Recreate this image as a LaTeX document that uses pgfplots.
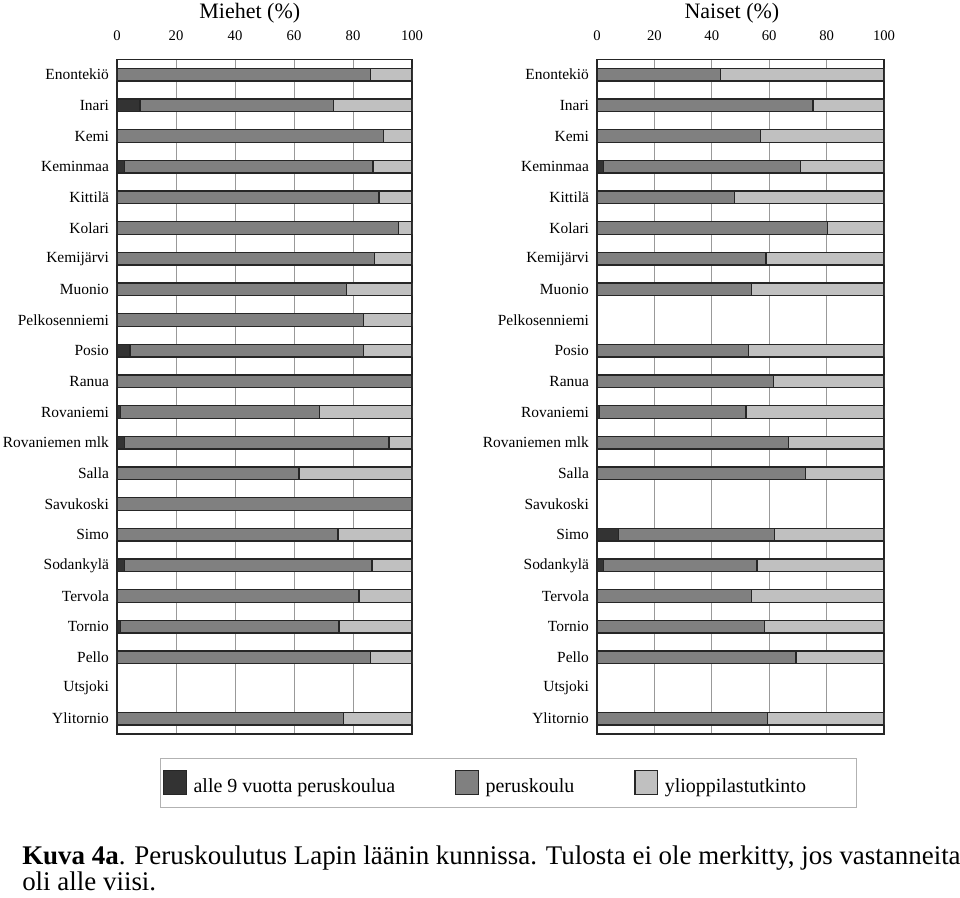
\documentclass[border=0pt]{standalone}
\usepackage{fontspec}
\setmainfont{Liberation Serif}
\usepackage{pgfplots}
\usepackage{pgfplotstable}
\pgfplotsset{compat=1.18}
\definecolor{cdark}{HTML}{333333}
\definecolor{cmid}{HTML}{808080}
\definecolor{clight}{HTML}{C0C0C0}

\pgfplotstableread{
y d m l
0 0 86.0 14.0
1 7.8 65.5 26.7
2 0 90.3 9.7
3 2.5 84.3 13.2
4 0 88.8 11.2
5 0 95.4 4.6
6 0 87.4 12.6
7 0 77.7 22.3
8 0 83.5 16.5
9 4.4 79.1 16.5
10 0 100 0
11 1.1 67.5 31.4
12 2.6 89.6 7.8
13 0 61.7 38.3
14 0 100 0
15 0 74.9 25.1
16 2.6 83.8 13.6
17 0 82.0 18.0
18 1.2 74.0 24.8
19 0 86.0 14.0
21 0 76.7 23.3
}\miehet

\pgfplotstableread{
y d m l
0 0 43.0 57.0
1 0 75.3 24.7
2 0 57.0 43.0
3 2.2 68.7 29.1
4 0 47.9 52.1
5 0 80.3 19.7
6 0 58.9 41.1
7 0 53.9 46.1
9 0 52.9 47.1
10 0 61.4 38.6
11 0.8 51.1 48.1
12 0 66.8 33.2
13 0 72.6 27.4
15 7.5 54.3 38.2
16 2.2 53.6 44.2
17 0 53.8 46.2
18 0 58.4 41.6
19 0 69.3 30.7
21 0 59.3 40.7
}\naiset

\pgfplotsset{
  lapin/.style={
    xbar stacked,
    scale only axis,
    height=506pt,
    xmin=0, xmax=100,
    ymin=-0.5, ymax=21.5,
    y dir=reverse,
    bar width=9.5pt,
    xtick={0,20,...,100},
    xticklabel pos=upper,
    ytick={0,...,21},
    yticklabels={Enontekiö,Inari,Kemi,Keminmaa,Kittilä,Kolari,Kemijärvi,Muonio,Pelkosenniemi,Posio,Ranua,Rovaniemi,Rovaniemen mlk,Salla,Savukoski,Simo,Sodankylä,Tervola,Tornio,Pello,Utsjoki,Ylitornio},
    major tick length=0pt,
    xmajorgrids,
    grid style={black!40, line width=0.75pt},
    axis line style={line width=1.1pt, black!85},
    yticklabel style={font=\fontsize{11.6}{13}\selectfont, xshift=-2.5pt},
    xticklabel style={font=\fontsize{11}{12}\selectfont, yshift=10.5pt},
    /pgf/number format/assume math mode=true,
    every axis plot/.append style={draw=black!85, line width=1pt},
    title style={font=\fontsize{16.5}{18}\selectfont, anchor=base, yshift=25pt},
    legend image code/.code={\draw[#1, line width=0.8pt] (0pt,-6pt) rectangle (17pt,12pt);},
  }
}

\begin{document}
\begin{tikzpicture}
\useasboundingbox (0pt,0pt) rectangle (720pt,-672.75pt);

\begin{axis}[lapin,
  at={(87.75pt,-550.5pt)}, anchor=south west,
  width=221.25pt,
  title={Miehet (\%)},
  title style={at={(0.45,1)}},
  legend columns=3,
  legend cell align=left,
  legend style={at={(0.1458,-0.0356)}, anchor=north west,
    draw=black!30, line width=0.75pt,
    font=\fontsize{15}{18}\selectfont,
    inner xsep=2pt, inner ysep=8.25pt,
    /tikz/every even column/.append style={column sep=43pt}},
]
\addplot[fill=cdark] table[x=d, y=y] {\miehet};
\addplot[fill=cmid] table[x=m, y=y] {\miehet};
\addplot[fill=clight] table[x=l, y=y] {\miehet};
\addlegendentry{\hspace{3pt}alle 9 vuotta peruskoulua}
\addlegendentry{\hspace{3pt}peruskoulu\hspace{9pt}}
\addlegendentry{\hspace{3pt}\makebox[140pt][l]{ylioppilastutkinto}}
\end{axis}

\begin{axis}[lapin,
  at={(447.75pt,-550.5pt)}, anchor=south west,
  width=215.25pt,
  title={Naiset (\%)},
  title style={at={(0.47,1)}},
]
\addplot[fill=cdark] table[x=d, y=y] {\naiset};
\addplot[fill=cmid] table[x=m, y=y] {\naiset};
\addplot[fill=clight] table[x=l, y=y] {\naiset};
\end{axis}

\node[anchor=base west, inner sep=0pt, font=\fontsize{20.2}{24}\selectfont] at (16.5pt,-648pt)
  {\textbf{Kuva 4a}. Peruskoulutus Lapin läänin kunnissa. Tulosta ei ole merkitty, jos vastanneita};
\node[anchor=base west, inner sep=0pt, font=\fontsize{20.2}{24}\selectfont] at (16.5pt,-667.5pt)
  {oli alle viisi.};
\end{tikzpicture}
\end{document}
